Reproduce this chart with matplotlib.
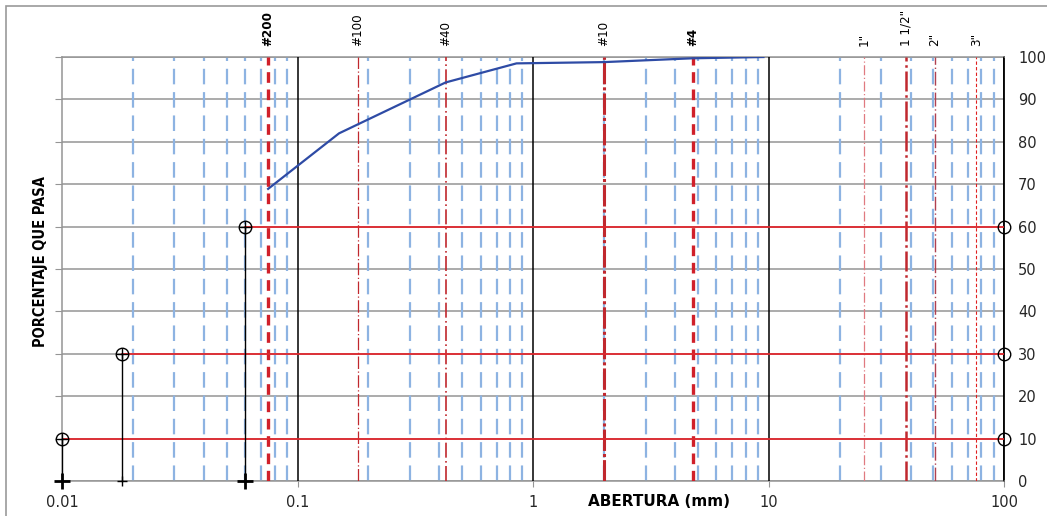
import numpy as np
import matplotlib.pyplot as plt
from matplotlib.patches import Rectangle

# curva granulometrica
abertura = [0.075, 0.15, 0.425, 0.85, 2.0, 4.75, 9.5]
pasa = [68.9, 82.0, 94.0, 98.5, 98.8, 99.7, 100.0]

# tamices (posicion de la linea roja y etiqueta)
tamiz_nombre = ['#200', '#100', '#40', '#10', '#4', '1"', '1 1/2"', '2"', '3"']
tamiz_abertura = [0.075, 0.18, 0.425, 2.0, 4.75, 25.4, 38.1, 50.8, 76.2]
tamiz_negrita = [True, False, False, False, True, False, False, False, False]

# D10, D30, D60
d_valor = [0.01, 0.018, 0.06]
d_pasa = [10, 30, 60]

x_ticks = [0.01, 0.1, 1, 10, 100]
x_ticklabels = ['0.01', '0.1', '1', '10', '100']
y_ticks = [0, 10, 20, 30, 40, 50, 60, 70, 80, 90, 100]

fig = plt.figure(figsize=(10.47, 5.16), dpi=100)
ax = fig.add_axes([0.0592, 0.0678, 0.9, 0.8217])
ax.set_xscale('log')
ax.set_xlim(0.01, 100)
ax.set_ylim(0, 100)

# lineas horizontales grises
for y in y_ticks:
    ax.axhline(y, color='#959595', lw=1.1, zorder=1)

# lineas menores azules
for dec in [0.01, 0.1, 1, 10]:
    for k in range(2, 10):
        ax.axvline(dec * k, color='#8DB3E2', lw=1.6, dashes=(7, 3.5), zorder=2)

# lineas mayores negras
for xv in [0.1, 1, 10, 100]:
    ax.axvline(xv, color='black', lw=1.1, zorder=3)

# lineas rojas de tamices
estilos = [
    dict(color='#D0202A', lw=2.4, dashes=(3.2, 2.0)),
    dict(color='#C0282E', lw=0.9, dashes=(10, 2, 1, 2)),
    dict(color='#C0282E', lw=1.2, dashes=(9, 2, 1, 2)),
    dict(color='#C0282E', lw=2.2, dashes=(7, 1, 1, 1)),
    dict(color='#D0202A', lw=2.4, dashes=(3.2, 2.0)),
    dict(color='#E07A80', lw=0.9, dashes=(8, 2, 1, 2)),
    dict(color='#C0282E', lw=1.8, dashes=(8, 1.5, 1, 1.5)),
    dict(color='#B04050', lw=1.0, dashes=(10, 2, 1, 2)),
    dict(color='#E02020', lw=0.8, dashes=(3, 2)),
]
for xv, st in zip(tamiz_abertura, estilos):
    ax.axvline(xv, zorder=4, **st)

for nombre, xv, neg in zip(tamiz_nombre, tamiz_abertura, tamiz_negrita):
    ax.text(xv, 102.5, nombre, rotation=90, ha='center', va='bottom',
            fontsize=9.5, fontweight='bold' if neg else 'normal',
            fontstretch='condensed', clip_on=False)

# D10, D30, D60
for dv, dp in zip(d_valor, d_pasa):
    ax.plot([dv, 100], [dp, dp], color='#E0282E', lw=1.3, zorder=5)
    ax.plot([dv, dv], [0, dp], color='black', lw=1.0, zorder=5)
    ax.plot(dv, dp, 'o', ms=9, mfc='none', mec='black', mew=1.0, zorder=6, clip_on=False)
    ax.plot(dv, dp, '+', ms=9, mec='black', mew=1.0, zorder=6, clip_on=False)
    ax.plot(100, dp, 'o', ms=9, mfc='none', mec='black', mew=1.0, zorder=6, clip_on=False)
ax.plot([d_valor[0], d_valor[2]], [0, 0], '+', ms=11, mec='black', mew=2.0, ls='none',
        zorder=6, clip_on=False)
ax.plot(d_valor[1], 0, '+', ms=7, mec='black', mew=1.0, zorder=6, clip_on=False)

# curva
ax.plot(abertura, pasa, color='#2E4BA5', lw=1.6, zorder=7)

ax.set_xticks(x_ticks)
ax.set_xticklabels(x_ticklabels)
ax.xaxis.set_minor_locator(plt.NullLocator())
ax.set_yticks(y_ticks)
ax.tick_params(axis='x', length=4, color='#959595', labelsize=10.5, labelcolor='#262626', pad=6)
ax.tick_params(axis='y', left=True, right=False, labelleft=False, labelright=True,
               length=5, color='#959595', labelsize=10.5, labelcolor='#262626', pad=5)
for s in ['left', 'bottom', 'top']:
    ax.spines[s].set_color('#959595')
    ax.spines[s].set_linewidth(1.1)
ax.spines['right'].set_color('black')
ax.spines['right'].set_linewidth(1.3)

fig.text(0.629, 0.028, 'ABERTURA (mm)', ha='center', va='center', fontsize=11,
         fontweight='bold')
fig.text(0.039, 0.494, 'PORCENTAJE QUE PASA', rotation=90, ha='center', va='center',
         fontsize=10.5, fontweight='bold', fontstretch='condensed')

fig.patches.append(Rectangle((0.006, -0.05), 1.1, 1.038, transform=fig.transFigure,
                             fill=False, edgecolor='#9A9A9A', lw=1.2))

fig.savefig('out.png', dpi=100)
